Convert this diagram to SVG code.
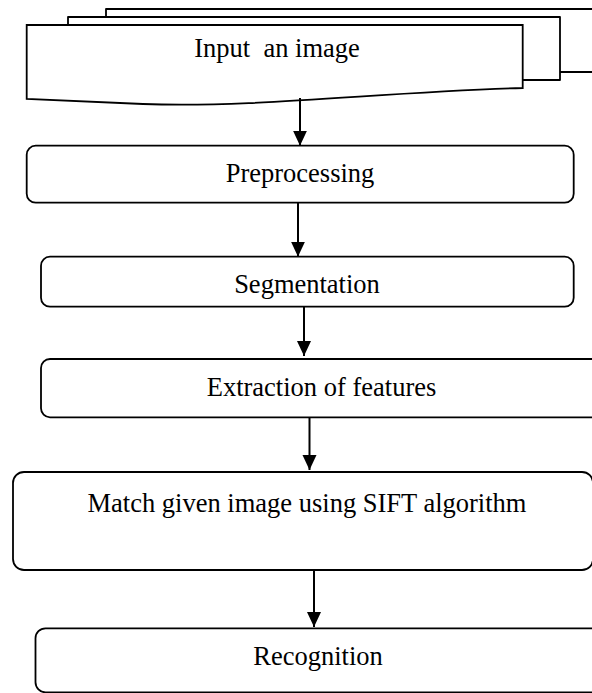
<svg xmlns="http://www.w3.org/2000/svg" width="592" height="693" viewBox="0 0 592 693">
<style>
.s{fill:none;stroke:#000;stroke-width:1.8;stroke-linejoin:round}
.b{fill:#fff;stroke:#000;stroke-width:1.8}
.t{font-family:"Liberation Serif","Times New Roman",serif;font-size:26.5px;fill:#000;text-anchor:middle}
.c{stroke:#000;stroke-width:2;fill:none}
</style>
<defs>
<marker id="ah" markerUnits="userSpaceOnUse" markerWidth="16" markerHeight="16" viewBox="0 0 16 16" refX="15" refY="8" orient="auto">
<path d="M0,1 L15,8 L0,15 Z" fill="#000"/>
</marker>
</defs>
<rect width="592" height="693" fill="#fff"/>
<g id="input">
<path class="s" d="M106,17 V9 H600 M560,72 H600"/>
<path class="s" d="M68,25 V17 H560 V80 H523"/>
<path class="b" d="M26.7,25 H522.7 V88 C380,92 260,108 143,104 C90,102 50,100 26.7,99 Z"/>
<text class="t" x="277" y="57" xml:space="preserve">Input  an image</text>
</g>
<g id="preprocessing">
<rect class="b" x="26.7" y="145.7" width="547" height="57" rx="9"/>
<text class="t" x="300" y="182">Preprocessing</text>
</g>
<g id="segmentation">
<rect class="b" x="41" y="256.7" width="532.7" height="50" rx="9"/>
<text class="t" x="307" y="292.5">Segmentation</text>
</g>
<g id="extraction">
<rect class="b" x="41" y="359" width="570" height="58.3" rx="9"/>
<text class="t" x="321.5" y="396">Extraction of features</text>
</g>
<g id="match">
<rect class="b" x="13" y="472" width="580" height="98" rx="11"/>
<text class="t" x="307" y="511.7">Match given image using SIFT algorithm</text>
</g>
<g id="recognition">
<rect class="b" x="35.5" y="628.3" width="570" height="64" rx="10"/>
<text class="t" x="318" y="665">Recognition</text>
</g>
<g id="connectors">
<line class="c" x1="300" y1="98" x2="300" y2="145.7" marker-end="url(#ah)"/>
<line class="c" x1="298" y1="202.7" x2="298" y2="256.7" marker-end="url(#ah)"/>
<line class="c" x1="304" y1="306.7" x2="304" y2="356" marker-end="url(#ah)"/>
<line class="c" x1="309.5" y1="417.3" x2="309.5" y2="470" marker-end="url(#ah)"/>
<line class="c" x1="314" y1="570" x2="314" y2="627" marker-end="url(#ah)"/>
</g>
</svg>
